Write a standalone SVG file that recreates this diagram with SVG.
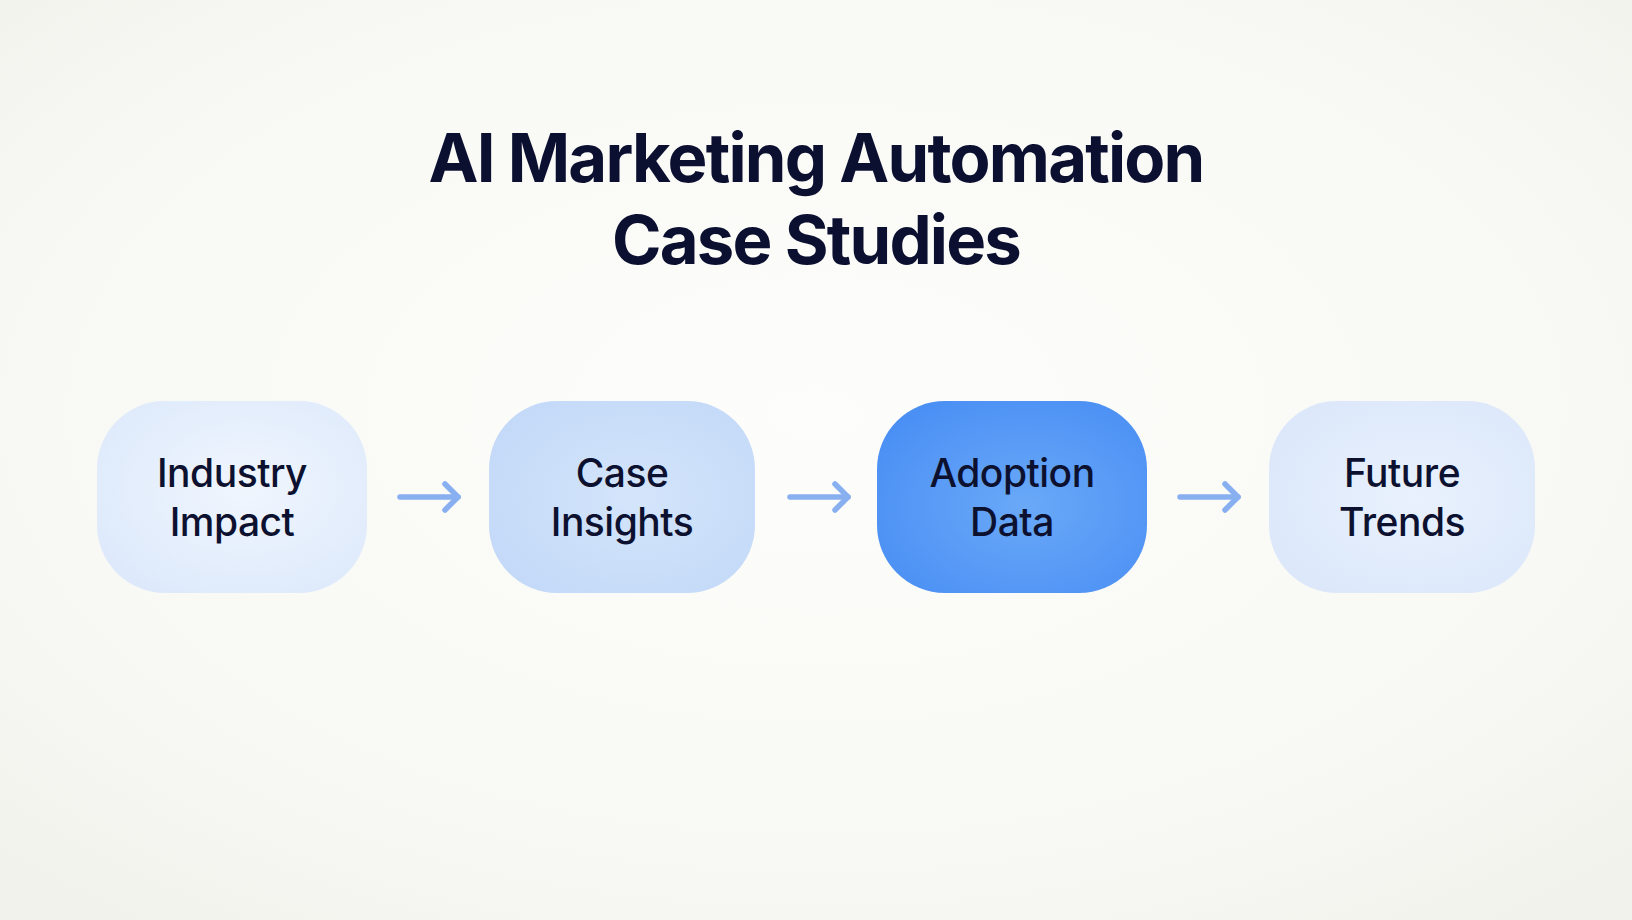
<svg xmlns="http://www.w3.org/2000/svg" width="1632" height="920" viewBox="0 0 1632 920">
  <style>
    .title { font-family: Inter, "Liberation Sans", sans-serif; font-weight: 700; font-size: 67px; fill: #0b0f30; text-anchor: middle; letter-spacing: -1.8px; }
    .label { font-family: Inter, "Liberation Sans", sans-serif; font-weight: 500; font-size: 39px; fill: #0d1130; text-anchor: middle; letter-spacing: -0.5px; }
    .arrow { fill: none; stroke: #88aff0; stroke-width: 5.5; stroke-linecap: round; stroke-linejoin: round; }
  </style>
  <defs>
    <radialGradient id="bg" cx="50%" cy="45%" r="70%">
      <stop offset="0" stop-color="#fdfdfb"/>
      <stop offset="0.7" stop-color="#f8f8f4"/>
      <stop offset="1" stop-color="#f2f2ed"/>
    </radialGradient>
    <radialGradient id="g1" cx="55%" cy="45%" r="65%">
      <stop offset="0" stop-color="#f0f6fe"/>
      <stop offset="1" stop-color="#dde9fb"/>
    </radialGradient>
    <radialGradient id="g2" cx="55%" cy="50%" r="65%">
      <stop offset="0" stop-color="#d4e5fb"/>
      <stop offset="1" stop-color="#c3d9f8"/>
    </radialGradient>
    <radialGradient id="g3" cx="55%" cy="55%" r="65%">
      <stop offset="0" stop-color="#6aa9f8"/>
      <stop offset="1" stop-color="#4a8ff4"/>
    </radialGradient>
    <radialGradient id="g4" cx="55%" cy="50%" r="65%">
      <stop offset="0" stop-color="#e9f1fd"/>
      <stop offset="1" stop-color="#dbe7fa"/>
    </radialGradient>
  </defs>
  <rect x="0" y="0" width="1632" height="920" fill="url(#bg)"/>
  <g id="title">
    <text class="title" x="816" y="182">AI Marketing Automation</text>
    <text class="title" x="816" y="264">Case Studies</text>
  </g>
  <g id="connectors">
    <g id="c1"><path class="arrow" d="M400 497 H458"/><path class="arrow" d="M445 484 L458 497 L445 510"/></g>
    <g id="c2"><path class="arrow" d="M790 497 H848"/><path class="arrow" d="M835 484 L848 497 L835 510"/></g>
    <g id="c3"><path class="arrow" d="M1180 497 H1238"/><path class="arrow" d="M1225 484 L1238 497 L1225 510"/></g>
  </g>
  <g id="node1">
    <rect x="97" y="401" width="270" height="192" rx="68" fill="url(#g1)"/>
    <text class="label" x="232" y="487">Industry</text>
    <text class="label" x="232" y="536">Impact</text>
  </g>
  <g id="node2">
    <rect x="489" y="401" width="266" height="192" rx="68" fill="url(#g2)"/>
    <text class="label" x="622" y="487">Case</text>
    <text class="label" x="622" y="536">Insights</text>
  </g>
  <g id="node3">
    <rect x="877" y="401" width="270" height="192" rx="68" fill="url(#g3)"/>
    <text class="label" x="1012" y="487">Adoption</text>
    <text class="label" x="1012" y="536">Data</text>
  </g>
  <g id="node4">
    <rect x="1269" y="401" width="266" height="192" rx="68" fill="url(#g4)"/>
    <text class="label" x="1402" y="487">Future</text>
    <text class="label" x="1402" y="536">Trends</text>
  </g>
</svg>
